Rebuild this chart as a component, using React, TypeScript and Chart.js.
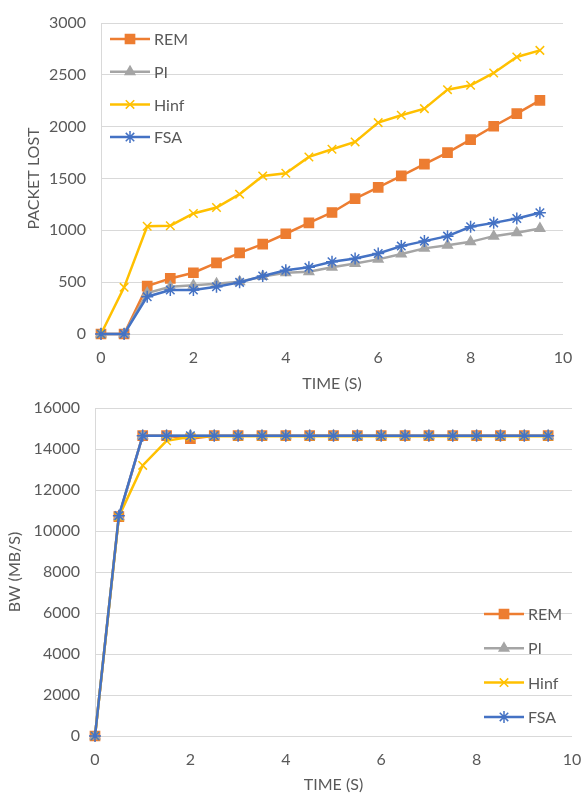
import React, { useEffect, useRef } from "react";
import { Chart, registerables } from "chart.js";
import { drawPoint } from "chart.js/helpers";

Chart.register(...registerables);

const TIME = [0, 0.5, 1, 1.5, 2, 2.5, 3, 3.5, 4, 4.5, 5, 5.5, 6, 6.5, 7, 7.5, 8, 8.5, 9, 9.5];
const SERIES_NAMES = ["REM", "PI", "Hinf", "FSA"];
const SERIES_COLORS = ["#ED7D31", "#A5A5A5", "#FFC000", "#4472C4"];
const SERIES_MARKERS = ["rect", "triangle", "crossRot", "star"];

const LOST_REM = [0, 0, 462, 536, 591, 687, 783, 867, 967, 1072, 1172, 1305, 1415, 1525, 1638, 1750, 1875, 2004, 2126, 2254];
const LOST_PI = [0, 0, 395, 455, 470, 485, 505, 555, 590, 600, 643, 681, 720, 771, 826, 857, 889, 944, 976, 1018];
const LOST_HINF = [0, 450, 1040, 1045, 1163, 1220, 1349, 1525, 1551, 1708, 1782, 1853, 2039, 2110, 2174, 2357, 2399, 2518, 2672, 2736];
const LOST_FSA = [0, 0, 360, 424, 424, 456, 498, 559, 614, 643, 697, 729, 777, 848, 896, 944, 1034, 1072, 1114, 1169];

const BW_REM = [0, 10700, 14650, 14650, 14500, 14650, 14650, 14650, 14650, 14650, 14650, 14650, 14650, 14650, 14650, 14650, 14650, 14650, 14650, 14650];
const BW_PI = [0, 10700, 14650, 14650, 14650, 14650, 14650, 14650, 14650, 14650, 14650, 14650, 14650, 14650, 14650, 14650, 14650, 14650, 14650, 14650];
const BW_HINF = [0, 10700, 13200, 14400, 14600, 14620, 14620, 14620, 14620, 14620, 14620, 14620, 14620, 14620, 14620, 14620, 14620, 14620, 14620, 14620];
const BW_FSA = [0, 10750, 14650, 14650, 14650, 14650, 14650, 14650, 14650, 14650, 14650, 14650, 14650, 14650, 14650, 14650, 14650, 14650, 14650, 14650];

const X_TITLE = "TIME (S)";
const TOP_Y_TITLE = "PACKET LOST";
const BOTTOM_Y_TITLE = "BW (MB/S)";

const FONT = "Lato";
const FONT_SIZE = 16;
const TEXT_COLOR = "#595959";
const GRID_COLOR = "#D9D9D9";
const MARKER_RADIUS = [6.5, 5.5, 6, 6];

function makeDatasets(series: number[][]) {
  return series.map((vals, i) => ({
    label: SERIES_NAMES[i],
    data: TIME.map((t, j) => ({ x: t, y: vals[j] })),
    borderColor: SERIES_COLORS[i],
    backgroundColor: SERIES_COLORS[i],
    pointBackgroundColor: SERIES_COLORS[i],
    pointBorderColor: SERIES_COLORS[i],
    pointStyle: SERIES_MARKERS[i],
    pointRadius: MARKER_RADIUS[i],
    pointBorderWidth: 1.5,
    borderWidth: 2.5,
    tension: 0,
    clip: false,
    order: 4 - i,
  }));
}

function legendPlugin(x0: number, y0: number, gap: number) {
  return {
    id: "customLegend",
    afterDraw(chart: any) {
      const ctx = chart.ctx;
      ctx.save();
      SERIES_NAMES.forEach((name, i) => {
        const y = y0 + i * gap;
        ctx.strokeStyle = SERIES_COLORS[i];
        ctx.fillStyle = SERIES_COLORS[i];
        ctx.lineWidth = 2.5;
        ctx.beginPath();
        ctx.moveTo(x0, y);
        ctx.lineTo(x0 + 40, y);
        ctx.stroke();
        ctx.lineWidth = 1.5;
        drawPoint(ctx, { pointStyle: SERIES_MARKERS[i], radius: MARKER_RADIUS[i], rotation: 0, borderWidth: 1.5 } as any, x0 + 20, y);
        ctx.fillStyle = TEXT_COLOR;
        ctx.font = `${FONT_SIZE}px ${FONT}`;
        ctx.textBaseline = "middle";
        ctx.textAlign = "left";
        ctx.fillText(name, x0 + 44, y + 1);
      });
      ctx.restore();
    },
  };
}

function makeOptions(yMax: number, yStep: number, yTitle: string, yWidth: number, xHeight: number, padding: any, yTitlePad: number, xTitlePad: number) {
  return {
    animation: false,
    responsive: false,
    maintainAspectRatio: false,
    layout: { padding },
    plugins: { legend: { display: false }, tooltip: { enabled: false } },
    scales: {
      x: {
        type: "linear",
        min: 0,
        max: 10,
        ticks: { stepSize: 2, color: TEXT_COLOR, font: { family: FONT, size: FONT_SIZE }, padding: 6, maxRotation: 0, callback: (v: any) => String(v) },
        grid: { display: false },
        border: { display: false },
        title: { display: true, text: X_TITLE, color: TEXT_COLOR, font: { family: FONT, size: FONT_SIZE }, padding: { top: 0, bottom: xTitlePad } },
        afterFit(scale: any) { scale.height = xHeight; scale.paddingLeft = 0; scale.paddingRight = 0; },
      },
      y: {
        min: 0,
        max: yMax,
        ticks: { stepSize: yStep, color: TEXT_COLOR, font: { family: FONT, size: FONT_SIZE }, padding: 15, callback: (v: any) => String(v) },
        grid: { color: GRID_COLOR, lineWidth: 1, drawTicks: false },
        border: { display: true, color: GRID_COLOR, width: 1 },
        title: { display: true, text: yTitle, color: TEXT_COLOR, font: { family: FONT, size: FONT_SIZE }, padding: { top: yTitlePad, bottom: 0 } },
        afterFit(scale: any) { scale.width = yWidth; scale.paddingTop = 0; scale.paddingBottom = 0; },
      },
    },
  };
}

function LineChart(props: { width: number; height: number; config: any }) {
  const ref = useRef<HTMLCanvasElement | null>(null);
  useEffect(() => {
    if (!ref.current) return;
    const chart = new Chart(ref.current, props.config);
    return () => chart.destroy();
  }, []);
  return <canvas ref={ref} width={props.width} height={props.height} style={{ display: "block", width: props.width, height: props.height }} />;
}

export default function App() {
  const topConfig = {
    type: "line",
    data: { datasets: makeDatasets([LOST_REM, LOST_PI, LOST_HINF, LOST_FSA]) },
    options: makeOptions(3000, 500, TOP_Y_TITLE, 101, 61, { top: 23, right: 21, left: 0, bottom: 0 }, 24, 2),
    plugins: [legendPlugin(110, 39, 32.7)],
  };
  const bottomConfig = {
    type: "line",
    data: { datasets: makeDatasets([BW_REM, BW_PI, BW_HINF, BW_FSA]) },
    options: makeOptions(16000, 2000, BOTTOM_Y_TITLE, 95, 58, { top: 13, right: 12, left: 0, bottom: 0 }, 5, 0),
    plugins: [legendPlugin(484, 219, 34.3)],
  };
  return (
    <div style={{ position: "absolute", left: 0, top: 0, width: 584, height: 794, background: "#fff" }}>
      <LineChart width={584} height={395} config={topConfig} />
      <LineChart width={584} height={399} config={bottomConfig} />
    </div>
  );
}
